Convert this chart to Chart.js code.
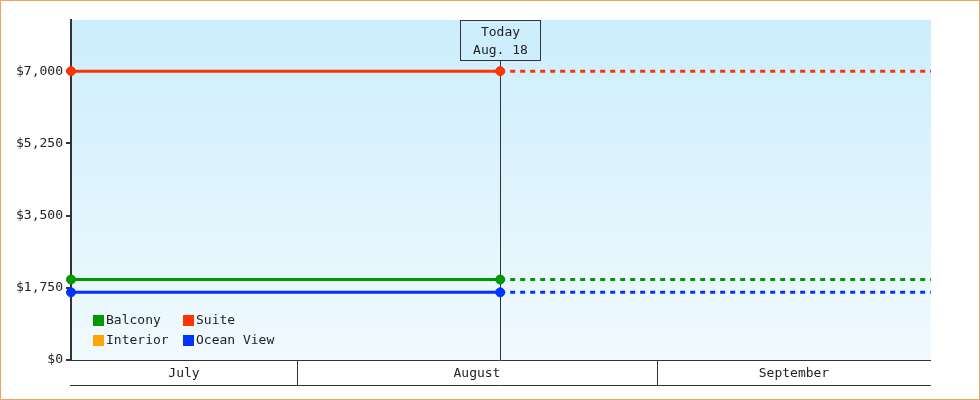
<!DOCTYPE html>
<html>
<head>
<meta charset="utf-8">
<script src="https://cdn.jsdelivr.net/npm/chart.js@4/dist/chart.umd.min.js"></script>
<style>
	html, body { margin: 0; padding: 0; background: #fff; }
	canvas { display: block; }
</style>
</head>
<body>
<canvas id="price-chart" width="980" height="400"></canvas>
<script>
// days counted from July 1
const monthNames = ['July', 'August', 'September'];
const monthStarts = [0, 31, 62];
const rangeStart = 11.54;
const rangeEnd = 85.6;
const todayDay = 48.5;
const todayLines = ['Today', 'Aug. 18'];

const pointDays = [rangeStart, todayDay, rangeEnd];
const seriesNames = ['Balcony', 'Suite', 'Interior', 'Ocean View'];
const balconyPrices = [1950, 1950, 1950];
const suitePrices = [7000, 7000, 7000];
const interiorPrices = [];
const oceanViewPrices = [1640, 1640, 1640];
const yTicks = [0, 1750, 3500, 5250, 7000];
const yMax = 8240;

const seriesColors = ['#009900', '#ff3300', '#ffa500', '#0033ff'];
const FONT = '"DejaVu Sans Mono", monospace';
const ctx = document.getElementById('price-chart').getContext('2d');

function makeDataset(name, prices, color) {
	return {
		label: name,
		data: prices.map((p, i) => ({ x: pointDays[i], y: p })),
		borderColor: color,
		backgroundColor: color,
		borderWidth: 3,
		borderCapStyle: 'butt',
		pointRadius: prices.map((p, i) => i < 2 ? 4.5 : 0),
		pointHoverRadius: 4.5,
		pointBorderWidth: 1,
		clip: false,
		segment: {
			borderDash: c => c.p0DataIndex >= 1 ? [5, 5] : undefined,
		},
	};
}

const allPrices = [balconyPrices, suitePrices, interiorPrices, oceanViewPrices];

const backdrop = {
	id: 'backdrop',
	beforeDraw(chart) {
		const a = chart.chartArea;
		const c = chart.ctx;
		const g = c.createLinearGradient(0, a.top, 0, a.bottom);
		g.addColorStop(0, '#cceefc');
		g.addColorStop(1, '#f1fafe');
		c.save();
		c.fillStyle = g;
		c.fillRect(a.left, a.top, a.right - a.left, a.bottom - a.top);
		// today line
		const tx = Math.round(chart.scales.x.getPixelForValue(todayDay)) + 0.5;
		c.strokeStyle = '#333';
		c.lineWidth = 1;
		c.beginPath();
		c.moveTo(tx, a.top);
		c.lineTo(tx, a.bottom);
		c.stroke();
		c.restore();
	},
	afterDraw(chart) {
		const a = chart.chartArea;
		const c = chart.ctx;
		const xs = chart.scales.x;
		c.save();
		// month band
		c.strokeStyle = '#333';
		c.lineWidth = 1;
		c.beginPath();
		c.moveTo(a.left - 1, a.bottom + 0.5);
		c.lineTo(a.right, a.bottom + 0.5);
		c.moveTo(a.left - 1, a.bottom + 25.5);
		c.lineTo(a.right, a.bottom + 25.5);
		monthStarts.forEach(d => {
			if (d <= rangeStart) return;
			const px = Math.round(xs.getPixelForValue(d)) + 0.5;
			c.moveTo(px, a.bottom);
			c.lineTo(px, a.bottom + 25);
		});
		c.stroke();

		// today box
		const tx = Math.round(xs.getPixelForValue(todayDay)) + 0.5;
		const bw = 80, bh = 40;
		c.fillStyle = '#cdeefc';
		c.fillRect(tx - bw / 2, a.top + 0.5, bw, bh);
		c.strokeRect(tx - bw / 2, a.top + 0.5, bw, bh);
		c.fillStyle = '#222';
		c.font = '13px ' + FONT;
		c.textAlign = 'center';
		c.textBaseline = 'middle';
		c.fillText(todayLines[0], tx, a.top + 13);
		c.fillText(todayLines[1], tx, a.top + 31);

		// legend
		c.textAlign = 'left';
		const lx = a.left + 22, ly = a.bottom - 45;
		seriesNames.forEach((name, i) => {
			const col = i % 2, row = Math.floor(i / 2);
			const x = lx + col * 90, y = ly + row * 20;
			c.fillStyle = seriesColors[i];
			c.fillRect(x, y, 11, 11);
			c.fillStyle = '#222';
			c.fillText(name, x + 13, y + 6);
		});

		// outer frame
		c.strokeStyle = '#e8a860';
		c.strokeRect(0.5, 0.5, chart.width - 1, chart.height - 1);
		c.restore();
	},
};

const chart = new Chart(ctx, {
	type: 'line',
	data: {
		datasets: seriesNames.map((n, i) => makeDataset(n, allPrices[i], seriesColors[i])),
	},
	options: {
		responsive: false,
		animation: false,
		layout: { padding: { top: 20, right: 49, left: 0, bottom: 0 } },
		plugins: { legend: { display: false }, tooltip: { enabled: false } },
		scales: {
			x: {
				type: 'linear',
				min: rangeStart,
				max: rangeEnd,
				afterBuildTicks: s => {
					s.ticks = monthNames.map((m, i) => {
						const a = Math.max(monthStarts[i], rangeStart);
						const b = Math.min(i + 1 < monthStarts.length ? monthStarts[i + 1] : rangeEnd, rangeEnd);
						return { value: (a + b) / 2 };
					});
				},
				afterFit: s => { s.height = 40; },
				grid: { display: false, drawTicks: false },
				border: { display: false },
				ticks: {
					autoSkip: false,
					maxRotation: 0,
					padding: 6,
					color: '#222',
					font: { family: FONT, size: 13 },
					callback: (v, i) => monthNames[i],
				},
			},
			y: {
				min: 0,
				max: yMax,
				afterBuildTicks: s => { s.ticks = yTicks.map(v => ({ value: v })); },
				afterFit: s => { s.width = 71; },
				grid: { drawOnChartArea: false, tickLength: 5, color: '#333', lineWidth: 2 },
				border: { color: '#333', width: 2 },
				ticks: {
					padding: 3,
					color: '#222',
					font: { family: FONT, size: 13 },
					callback: v => '$' + v.toLocaleString('en-US'),
				},
			},
		},
	},
	plugins: [backdrop],
});
</script>
</body>
</html>
